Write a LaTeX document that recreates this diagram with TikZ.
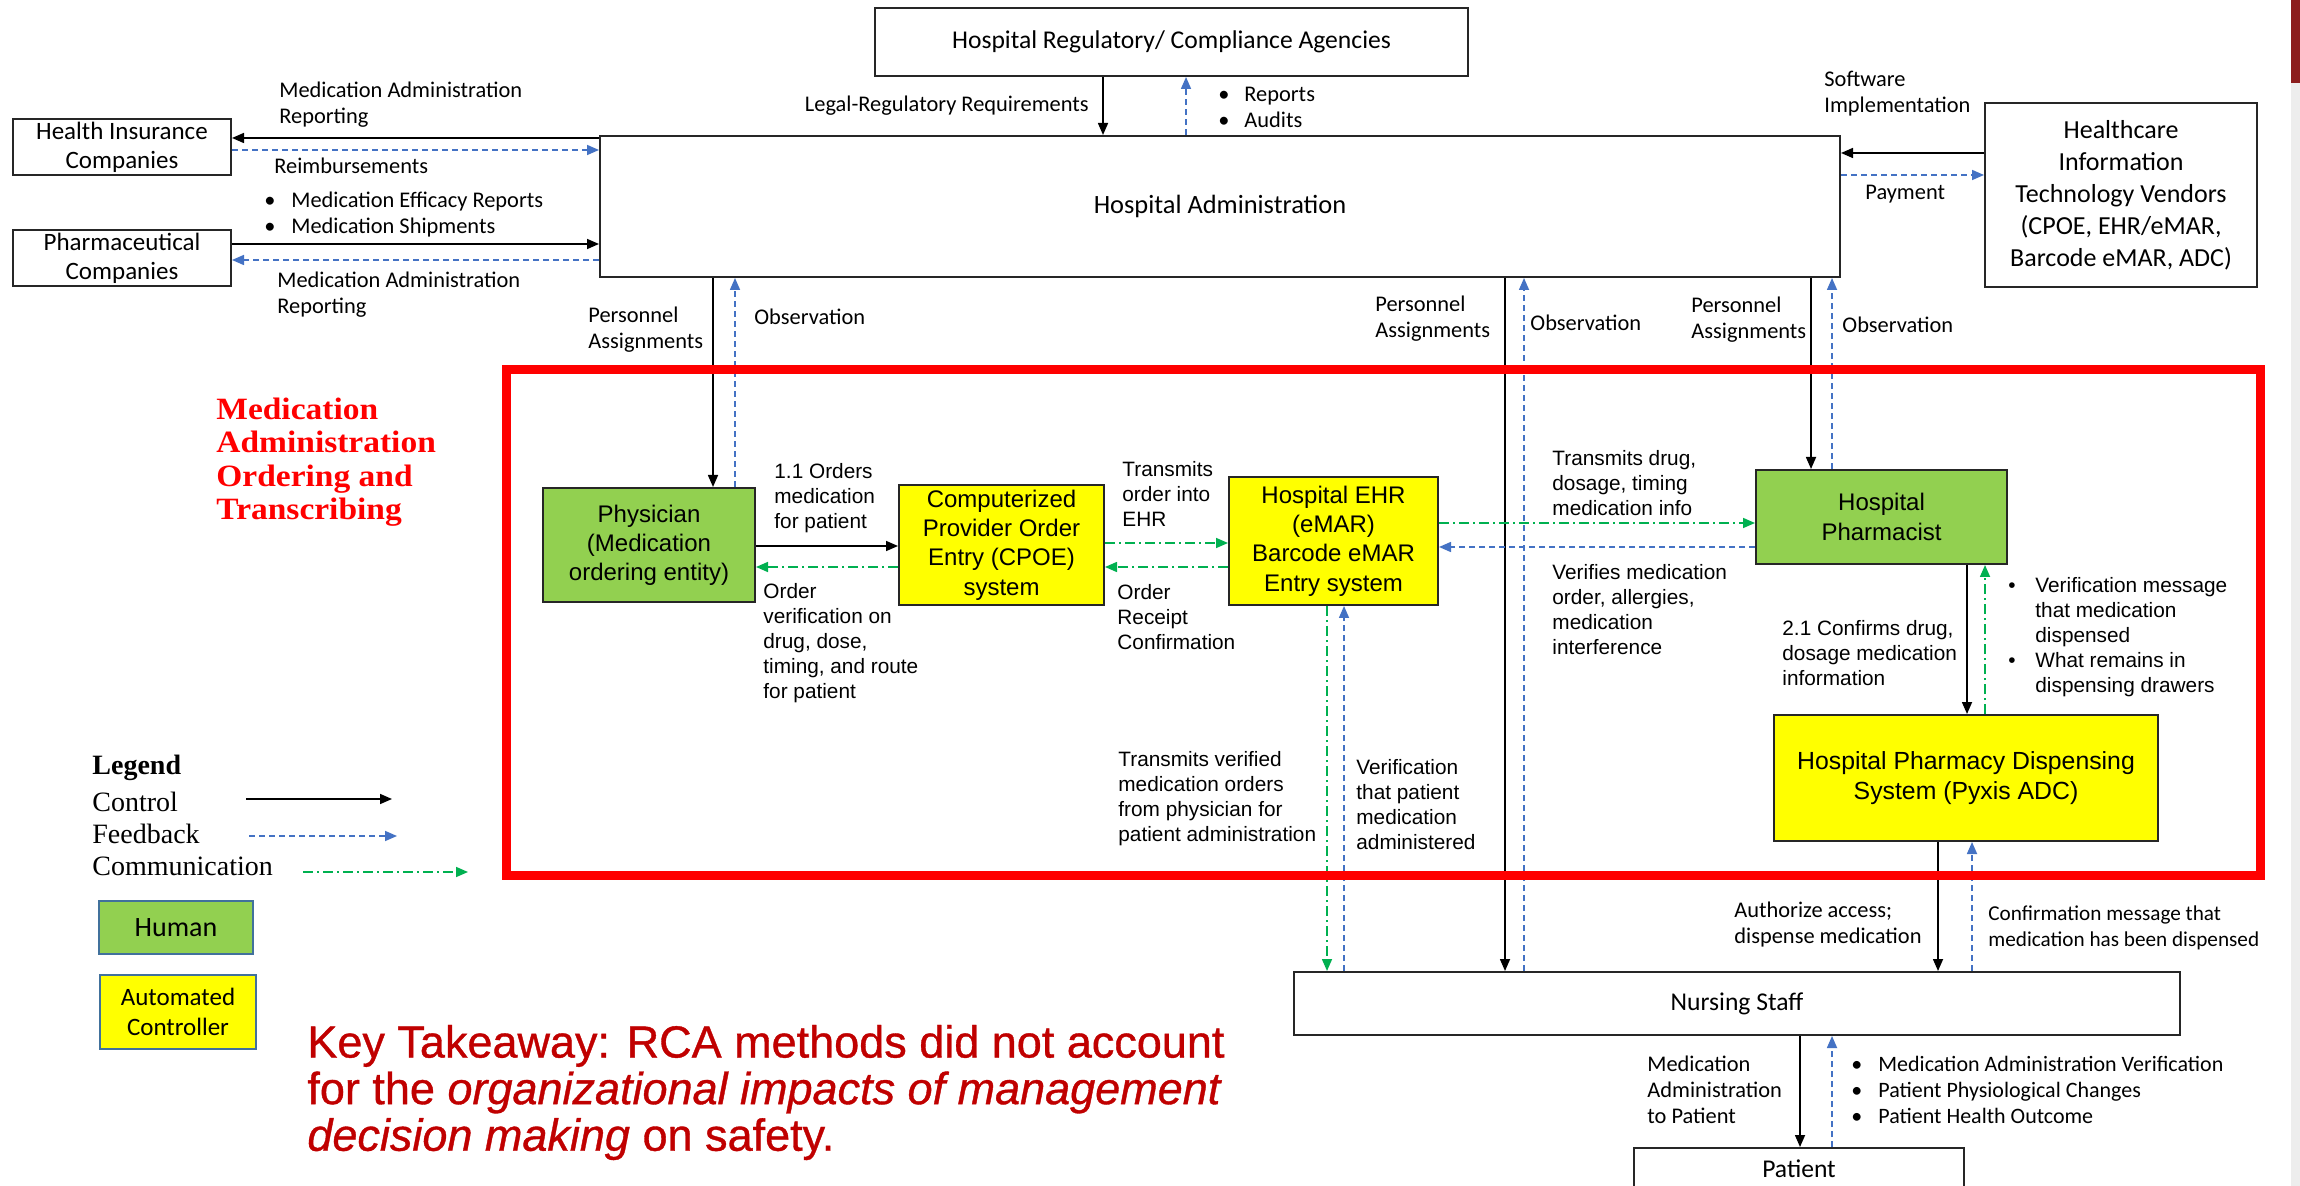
\documentclass[tikz,border=0pt]{standalone}
\usepackage{fontspec}
\setmainfont{Carlito}
\newfontfamily\arialf{Liberation Sans}
\newfontfamily\legf{Liberation Serif}
\newfontfamily\titf[FakeStretch=1.08]{Liberation Serif}
\newfontfamily\keyf[FakeBold=0.8]{Liberation Sans}
\usetikzlibrary{arrows.meta}
\definecolor{hgreen}{HTML}{92D050}
\definecolor{hyellow}{HTML}{FFFF00}
\definecolor{fbblue}{HTML}{4472C4}
\definecolor{cmgreen}{HTML}{00B050}
\definecolor{keyred}{HTML}{C00000}
\definecolor{slidered}{HTML}{8C1D1D}
\definecolor{legborder}{HTML}{41719C}
\newcommand\bul{\makebox[13.5pt][l]{\textbullet}}
\newcommand\bulsp{\hspace*{13.5pt}}
% name, style, x1, y1, x2, y2, text
\newcommand\mkbox[7]{\node[#2, minimum width={(#5-#3)*0.5pt}, minimum height={(#6-#4)*0.5pt}] (#1) at ({(#3+#5)/2},{(#4+#6)/2}) {#7};}
\begin{document}
\begin{tikzpicture}[x=0.5pt,y=-0.5pt,
  wbox/.style={draw=black!85, line width=1pt, inner sep=0pt, fill=white, align=center, font=\fontsize{12.8}{14.5}\selectfont},
  gbox/.style={wbox, fill=hgreen, font=\arialf\fontsize{12}{14.6}\selectfont},
  ybox/.style={wbox, fill=hyellow, font=\arialf\fontsize{12}{14.6}\selectfont},
  ctrlar/.style={draw=black, line width=0.8pt, -{Triangle[length=6pt,width=5pt]}},
  fbar/.style={draw=fbblue, line width=0.8pt, dash pattern=on 3pt off 2pt, -{Triangle[length=6pt,width=5pt]}},
  cmar/.style={draw=cmgreen, line width=0.8pt, dash pattern=on 5pt off 2pt on 1pt off 2pt, -{Triangle[length=6pt,width=5pt]}},
  lab/.style={inner sep=0pt, anchor=west, align=left, font=\fontsize{11.2}{13}\selectfont},
  nlab/.style={lab, font=\arialf\fontsize{10.4}{12.5}\selectfont},
  legtxt/.style={inner sep=0pt, anchor=west, font=\legf\fontsize{14}{16}\selectfont}
]
\useasboundingbox (0,0) rectangle (2300,1186);
\fill[white] (0,0) rectangle (2300,1186);
\fill[slidered] (2291,0) rectangle (2300,83);
\fill[black!7] (2291,83) rectangle (2300,1186);

% ---------- boxes ----------
\mkbox{reg}{wbox}{875}{8}{1468}{76}{Hospital Regulatory/ Compliance Agencies}
\mkbox{admin}{wbox, font=\fontsize{13.2}{15}\selectfont}{600}{136}{1840}{277}{Hospital Administration}
\mkbox{hi}{wbox, font=\fontsize{12.5}{14.5}\selectfont}{13}{119}{231}{175}{Health Insurance\\Companies}
\mkbox{pharma}{wbox, font=\fontsize{12.5}{14.5}\selectfont}{13}{230}{231}{286}{Pharmaceutical\\Companies}
\mkbox{vend}{wbox, font=\fontsize{13}{16}\selectfont}{1985}{103}{2257}{287}{Healthcare\\Information\\Technology Vendors\\(CPOE, EHR/eMAR,\\Barcode eMAR, ADC)}
\mkbox{phys}{gbox}{543}{488}{755}{602}{Physician\\(Medication\\ordering entity)}
\mkbox{cpoe}{ybox}{899}{485}{1104}{605}{Computerized\\Provider Order\\Entry (CPOE)\\system}
\mkbox{ehr}{ybox}{1229}{477}{1438}{605}{Hospital EHR\\(eMAR)\\Barcode eMAR\\Entry system}
\mkbox{pharm}{gbox}{1756}{470}{2007}{564}{Hospital\\Pharmacist}
\mkbox{disp}{ybox, font=\arialf\fontsize{12.4}{15}\selectfont}{1774}{715}{2158}{841}{Hospital Pharmacy Dispensing\\System (Pyxis ADC)}
\mkbox{nurse}{wbox}{1294}{972}{2180}{1035}{Nursing Staff}
\mkbox{patient}{wbox}{1634}{1148}{1964}{1190}{Patient}
\mkbox{human}{wbox, fill=hgreen, draw=legborder, font=\fontsize{14}{16}\selectfont}{99}{901}{253}{954}{Human}
\mkbox{auto}{wbox, fill=hyellow, draw=legborder, font=\fontsize{12.5}{15}\selectfont}{100}{975}{256}{1049}{Automated\\Controller}

% ---------- connector coordinates ----------
\coordinate (v1) at (1103,0); \coordinate (v2) at (1186,0);
\coordinate (v3) at (713,0);  \coordinate (v4) at (735,0);
\coordinate (v5) at (1505,0); \coordinate (v6) at (1524,0);
\coordinate (v7) at (1811,0); \coordinate (v8) at (1832,0);
\coordinate (v9) at (1327,0); \coordinate (v10) at (1344,0);
\coordinate (v11) at (1967,0); \coordinate (v12) at (1985,0);
\coordinate (v13) at (1938,0); \coordinate (v14) at (1972,0);
\coordinate (v15) at (1800,0); \coordinate (v16) at (1832,0);
\coordinate (h1) at (0,138); \coordinate (h2) at (0,150);
\coordinate (h3) at (0,244); \coordinate (h4) at (0,260);
\coordinate (h5) at (0,153); \coordinate (h6) at (0,175);
\coordinate (h7) at (0,546); \coordinate (h8) at (0,567);
\coordinate (h9) at (0,543); \coordinate (h10) at (0,567);
\coordinate (h11) at (0,523); \coordinate (h12) at (0,547);

% ---------- connectors ----------
\draw[ctrlar] (reg.south -| v1) -- (admin.north -| v1);
\draw[fbar] (admin.north -| v2) -- (reg.south -| v2);
\draw[ctrlar] (admin.west |- h1) -- (hi.east |- h1);
\draw[fbar] (hi.east |- h2) -- (admin.west |- h2);
\draw[ctrlar] (pharma.east |- h3) -- (admin.west |- h3);
\draw[fbar] (admin.west |- h4) -- (pharma.east |- h4);
\draw[ctrlar] (vend.west |- h5) -- (admin.east |- h5);
\draw[fbar] (admin.east |- h6) -- (vend.west |- h6);
\draw[ctrlar] (admin.south -| v3) -- (phys.north -| v3);
\draw[fbar] (phys.north -| v4) -- (admin.south -| v4);
\draw[ctrlar] (admin.south -| v5) -- (nurse.north -| v5);
\draw[fbar] (nurse.north -| v6) -- (admin.south -| v6);
\draw[ctrlar] (admin.south -| v7) -- (pharm.north -| v7);
\draw[fbar] (pharm.north -| v8) -- (admin.south -| v8);
\draw[ctrlar] (phys.east |- h7) -- (cpoe.west |- h7);
\draw[cmar] (cpoe.west |- h8) -- (phys.east |- h8);
\draw[cmar] (cpoe.east |- h9) -- (ehr.west |- h9);
\draw[cmar] (ehr.west |- h10) -- (cpoe.east |- h10);
\draw[cmar] (ehr.east |- h11) -- (pharm.west |- h11);
\draw[fbar] (pharm.west |- h12) -- (ehr.east |- h12);
\draw[cmar] (ehr.south -| v9) -- (nurse.north -| v9);
\draw[fbar] (nurse.north -| v10) -- (ehr.south -| v10);
\draw[ctrlar] (pharm.south -| v11) -- (disp.north -| v11);
\draw[cmar] (disp.north -| v12) -- (pharm.south -| v12);
\draw[ctrlar] (disp.south -| v13) -- (nurse.north -| v13);
\draw[fbar] (nurse.north -| v14) -- (disp.south -| v14);
\draw[ctrlar] (nurse.south -| v15) -- (patient.north -| v15);
\draw[fbar] (patient.north -| v16) -- (nurse.south -| v16);

% ---------- red scope box ----------
\mkbox{scopebox}{draw=red, line width=4.5pt, inner sep=0pt}{506}{370}{2260}{875}{}

% ---------- labels ----------
\node[lab] (l1) at (279,105) {Medication Administration\\Reporting};
\node[lab] (l2) at (274,166) {Reimbursements};
\node[lab] (l3) at (264,214.5) {\bul Medication Efficacy Reports\\\bul Medication Shipments};
\node[lab] (l4) at (277,294.5) {Medication Administration\\Reporting};
\node[lab, anchor=east] (l5) at (1089,106) {Legal-Regulatory Requirements};
\node[lab] (l6) at (1218,107.5) {\makebox[13pt][l]{\textbullet}Reports\\\makebox[13pt][l]{\textbullet}Audits};
\node[lab] (l7) at (1824,93.5) {Software\\Implementation};
\node[lab] (l8) at (1865,194) {Payment};
\node[lab] (l9) at (588,330) {Personnel\\Assignments};
\node[lab] (l10) at (754,317) {Observation};
\node[lab] (l11) at (1375,318.5) {Personnel\\Assignments};
\node[lab] (l12) at (1530,323) {Observation};
\node[lab] (l13) at (1691,319.5) {Personnel\\Assignments};
\node[lab] (l14) at (1842,325) {Observation};

\node[nlab] (n1) at (774,498) {1.1 Orders\\medication\\for patient};
\node[nlab] (n2) at (763,643.5) {Order\\verification on\\drug, dose,\\timing, and route\\for patient};
\node[nlab] (n3) at (1122,494) {Transmits\\order into\\EHR};
\node[nlab] (n4) at (1117,617) {Order\\Receipt\\Confirmation};
\node[nlab] (n5) at (1552,483) {Transmits drug,\\dosage, timing\\medication info};
\node[nlab] (n6) at (1552,609.5) {Verifies medication\\order, allergies,\\medication\\interference};
\node[nlab] (n7) at (1782,653) {2.1 Confirms drug,\\dosage medication\\information};
\node[nlab] (n8) at (2008,637) {\bul Verification message\\\bulsp that medication\\\bulsp dispensed\\\bul What remains in\\\bulsp dispensing drawers};
\node[nlab] (n9) at (1118,799) {Transmits verified\\medication orders\\from physician for\\patient administration};
\node[nlab] (n10) at (1356,804.5) {Verification\\that patient\\medication\\administered};

\node[lab] (b1) at (1734,925) {Authorize access;\\dispense medication};
\node[lab, font=\fontsize{10.6}{13}\selectfont] (b2) at (1988,928) {Confirmation message that\\medication has been dispensed};
\node[lab] (b3) at (1647,1090) {Medication\\Administration\\to Patient};
\node[lab, font=\fontsize{11}{13}\selectfont] (b4) at (1851,1090) {\bul Medication Administration Verification\\\bul Patient Physiological Changes\\\bul Patient Health Outcome};

% ---------- title ----------
\node[inner sep=0pt, anchor=west, align=left, text=red, font=\titf\bfseries\fontsize{15.5}{16.7}\selectfont] (title) at (216,462) {Medication\\Administration\\Ordering and\\Transcribing};

% ---------- legend ----------
\node[legtxt, font=\legf\bfseries\fontsize{14}{16}\selectfont] (lg0) at (92,768) {Legend};
\node[legtxt] (lg1) at (92,802) {Control};
\node[legtxt] (lg2) at (92,834) {Feedback};
\node[legtxt] (lg3) at (92,866) {Communication};
\coordinate (la1) at (246,799); \coordinate (la2) at (392,799);
\coordinate (lb1) at (249,836); \coordinate (lb2) at (397,836);
\coordinate (lc1) at (303,872); \coordinate (lc2) at (468,872);
\draw[ctrlar] (la1) -- (la2);
\draw[fbar] (lb1) -- (lb2);
\draw[cmar] (lc1) -- (lc2);

% ---------- key takeaway ----------
\node[inner sep=0pt, anchor=west, align=left, text=keyred, font=\keyf\fontsize{22.5}{23.3}\selectfont] (key) at (307,1092.5) {Key Takeaway: RCA methods did not account\\for the \textit{organizational impacts of management}\\\textit{decision making} on safety.};
\end{tikzpicture}
\end{document}
